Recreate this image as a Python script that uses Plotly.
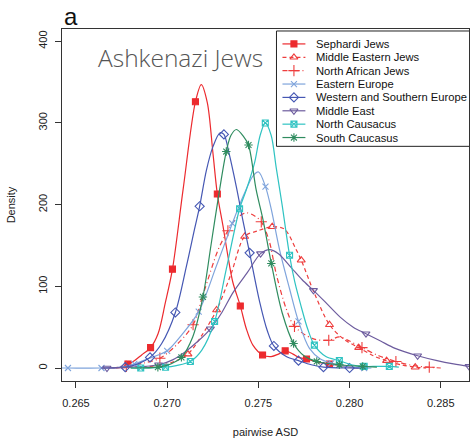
import plotly.graph_objects as go

# ---- density curves of pairwise ASD to Ashkenazi Jews, by population ----
series_names = [
    "Sephardi Jews", "Middle Eastern Jews", "North African Jews", "Eastern Europe",
    "Western and Southern Europe", "Middle East", "North Causacus", "South Caucasus",
]

sephardi_x = [0.2672, 0.2675, 0.26785, 0.2682, 0.2686, 0.26909, 0.2695, 0.2699, 0.27029, 0.27087,
              0.27155, 0.27187, 0.2722, 0.27251, 0.27275, 0.27306, 0.27333, 0.2736, 0.27401, 0.27434,
              0.2747, 0.27523, 0.2757, 0.2761, 0.27647, 0.2769, 0.2772, 0.27764, 0.2783, 0.2789,
              0.2795, 0.2800, 0.2805]
sephardi_y = [0, 1, 5, 9, 16, 25, 42, 80, 121, 218,
              326, 347, 325, 263, 213, 174, 137, 105, 76, 48,
              28, 16, 14, 17, 21, 17, 13, 11, 7, 5,
              3, 1, 0]
sephardi_marks = [0.26785, 0.26909, 0.27029, 0.27155, 0.27275, 0.27401, 0.27523, 0.27647, 0.27764, 0.2789]

mideast_jews_x = [0.2675, 0.26805, 0.2696, 0.2704, 0.27114, 0.2719, 0.27271, 0.2735, 0.27425, 0.27498,
                  0.27576, 0.27643, 0.27707, 0.27735, 0.2781, 0.2789, 0.2797, 0.2805, 0.2813, 0.28203,
                  0.2828, 0.2836, 0.2842]
mideast_jews_y = [0, 1, 3, 8, 17, 40, 71, 115, 161, 168,
                  173, 170, 145, 132, 90, 53, 35, 25, 15, 9,
                  4, 1, 0]
mideast_jews_marks = [0.27114, 0.27271, 0.27425, 0.27576, 0.27735, 0.2789, 0.2805, 0.28203, 0.2836]

nafrica_jews_x = [0.2670, 0.26776, 0.2687, 0.2696, 0.2705, 0.27142, 0.2720, 0.2728, 0.27333, 0.2738,
                  0.27434, 0.2748, 0.27516, 0.2756, 0.27598, 0.27652, 0.27698, 0.27798, 0.27886, 0.27944,
                  0.2800, 0.28068, 0.2816, 0.28254, 0.2835, 0.28437, 0.2850]
nafrica_jews_y = [0, 2, 6, 12, 28, 53, 92, 145, 168, 183,
                  190, 186, 179, 155, 115, 73, 51, 36, 34, 38,
                  33, 25, 15, 8, 3, 1, 0]
nafrica_jews_marks = [0.26776, 0.2696, 0.27142, 0.27333, 0.27516, 0.27698, 0.27886, 0.28068, 0.28254, 0.28437]

east_europe_x = [0.2640, 0.26456, 0.2664, 0.2672, 0.2677, 0.2682, 0.2688, 0.2694, 0.2700, 0.27085,
                 0.27173, 0.2727, 0.27357, 0.2742, 0.2747, 0.27501, 0.27539, 0.2757, 0.27616, 0.27671,
                 0.2772, 0.2778, 0.2784, 0.2790, 0.2795, 0.2800, 0.2808, 0.2812]
east_europe_y = [0, 0, 0, 0.5, 2, 5, 10, 15, 21, 42,
                 69, 125, 177, 212, 235, 240, 222, 195, 145, 97,
                 57, 24, 11, 6, 3, 1.5, 0, 0]
east_europe_marks = [0.26456, 0.2664, 0.2682, 0.2700, 0.27173, 0.27357, 0.27539, 0.2772, 0.2790, 0.2808]

west_south_x = [0.2664, 0.2677, 0.2684, 0.26906, 0.2697, 0.27045, 0.27106, 0.2715, 0.27178, 0.27215,
                0.27251, 0.2729, 0.27311, 0.2734, 0.27379, 0.27414, 0.27452, 0.27507, 0.2755, 0.27585,
                0.27653, 0.2772, 0.2779, 0.27857, 0.2800, 0.2810]
west_south_y = [0, 1, 5, 13, 30, 68, 125, 170, 198, 242,
                271, 288, 286, 262, 222, 182, 141, 81, 45, 27,
                14, 9, 4, 1, 0, 0]
west_south_marks = [0.2677, 0.26906, 0.27045, 0.27178, 0.27311, 0.27452, 0.27585, 0.2772, 0.27857, 0.2800]

mideast_x = [0.2664, 0.2667, 0.2680, 0.26953, 0.2703, 0.2710, 0.2717, 0.27237, 0.2730, 0.2736,
             0.2744, 0.27512, 0.27561, 0.2761, 0.2768, 0.2774, 0.27802, 0.2787, 0.2795, 0.2802,
             0.2809, 0.2817, 0.2825, 0.28373, 0.2848, 0.2857, 0.28655]
mideast_y = [0, 0, 1, 4, 10, 20, 33, 48, 68, 92,
             117, 140, 145, 140, 123, 108, 95, 80, 62, 50,
             42, 33, 24, 15, 9, 5, 2]
mideast_marks = [0.2667, 0.26953, 0.27237, 0.27512, 0.27802, 0.2809, 0.28373, 0.28655]

n_caucasus_x = [0.2680, 0.26855, 0.26991, 0.2705, 0.27127, 0.2719, 0.2726, 0.27324, 0.27397, 0.27434,
                0.27479, 0.2751, 0.27538, 0.2757, 0.27598, 0.2763, 0.27671, 0.2770, 0.27735, 0.2777,
                0.27807, 0.2787, 0.27944, 0.2801, 0.2808, 0.2815, 0.28218, 0.2827]
n_caucasus_y = [0, 0, 1, 3, 8, 22, 57, 121, 195, 218,
                251, 285, 300, 285, 245, 200, 138, 105, 75, 48,
                28, 14, 9, 4, 2, 2, 2, 1]
n_caucasus_marks = [0.26855, 0.26991, 0.27127, 0.2726, 0.27397, 0.27538, 0.27671, 0.27807, 0.27944, 0.2808, 0.28218]

s_caucasus_x = [0.2680, 0.26949, 0.2702, 0.27078, 0.2714, 0.27196, 0.2724, 0.27285, 0.27324, 0.2735,
                0.2738, 0.2742, 0.27446, 0.27488, 0.27525, 0.27571, 0.2763, 0.27693, 0.2775, 0.2782,
                0.27944, 0.28072, 0.2815]
s_caucasus_y = [0, 1, 5, 13, 38, 87, 150, 215, 265, 285,
                292, 283, 273, 218, 182, 128, 68, 30, 15, 8,
                4, 2, 1]
s_caucasus_marks = [0.26949, 0.27078, 0.27196, 0.27324, 0.27446, 0.27571, 0.27693, 0.2782, 0.27944, 0.28072]

x_ticks = [0.265, 0.270, 0.275, 0.280, 0.285]
x_tick_labels = ["0.265", "0.270", "0.275", "0.280", "0.285"]
y_ticks = [0, 100, 200, 300, 400]

curves = [
    (sephardi_x, sephardi_y, sephardi_marks),
    (mideast_jews_x, mideast_jews_y, mideast_jews_marks),
    (nafrica_jews_x, nafrica_jews_y, nafrica_jews_marks),
    (east_europe_x, east_europe_y, east_europe_marks),
    (west_south_x, west_south_y, west_south_marks),
    (mideast_x, mideast_y, mideast_marks),
    (n_caucasus_x, n_caucasus_y, n_caucasus_marks),
    (s_caucasus_x, s_caucasus_y, s_caucasus_marks),
]

# ---- styling ----
colors = ["#EC2A2E", "#EE3D3D", "#EE3D3D", "#7FA4DC", "#4557B3", "#6D5C9E", "#2FC3C2", "#2F8C5F"]
dashes = ["solid", "4px,3px", "5px,3px,1px,3px", "solid", "solid", "solid", "solid", "solid"]
symbols = ["square", "triangle-up-open", "cross-thin-open", "x-thin-open",
           "diamond-open", "triangle-down-open", "square-x-open", "asterisk-open"]
sizes = [6, 7, 8, 6, 7, 7, 6, 7]

fig = go.Figure()

for (xs, ys, marks), col, dash, sym, sz in zip(curves, colors, dashes, symbols, sizes):
    fig.add_trace(go.Scatter(
        x=xs, y=ys, mode="lines", showlegend=False, hoverinfo="skip",
        line=dict(color=col, width=1.2, dash=dash, shape="spline", smoothing=0.9),
    ))
    my = [ys[xs.index(m)] for m in marks]
    fig.add_trace(go.Scatter(
        x=marks, y=my, mode="markers", showlegend=False, hoverinfo="skip",
        marker=dict(symbol=sym, size=sz, color=col, line=dict(color=col, width=1.1)),
    ))

# ---- legend drawn on a pixel-scaled overlay axis ----
L_LEFT, L_TOP, L_RIGHT, L_BOTTOM = 277, 31, 474, 147
row0, row_step = 44, 13.45
for i, (name, col, dash, sym, sz) in enumerate(zip(series_names, colors, dashes, symbols, sizes)):
    ry = row0 + i * row_step
    fig.add_trace(go.Scatter(
        x=[283, 306], y=[ry, ry], xaxis="x2", yaxis="y2", mode="lines",
        showlegend=False, hoverinfo="skip",
        line=dict(color=col, width=1.2, dash=dash),
    ))
    fig.add_trace(go.Scatter(
        x=[294.5], y=[ry], xaxis="x2", yaxis="y2", mode="markers",
        showlegend=False, hoverinfo="skip",
        marker=dict(symbol=sym, size=sz, color=col, line=dict(color=col, width=1.1)),
    ))
    fig.add_annotation(
        x=315, y=ry, xref="x2", yref="y2", text=name, showarrow=False,
        xanchor="left", yanchor="middle",
        font=dict(family="Liberation Sans, Arial", size=11.2, color="#111111"),
    )

fig.add_shape(type="rect", xref="x2", yref="y2", x0=L_LEFT, y0=L_TOP, x1=L_RIGHT, y1=L_BOTTOM,
              line=dict(color="#222222", width=1), fillcolor="rgba(0,0,0,0)", layer="above")

# ---- labels ----
fig.add_annotation(x=0, y=1.0, xref="paper", yref="paper", text="a", showarrow=False,
                   xanchor="left", yanchor="bottom", yshift=-3,
                   font=dict(family="Liberation Sans, Arial", size=24, color="#111111"))
fig.add_annotation(x=96, y=58, xref="x2", yref="y2", text="Ashkenazi Jews", showarrow=False,
                   xanchor="left", yanchor="middle",
                   font=dict(family="Open Sans", size=24.5, color="#555555", weight=300))

axis_font = dict(family="Liberation Sans, Arial", size=11, color="#222222")

fig.update_layout(
    width=472, height=439,
    margin=dict(l=62, r=2, t=29, b=56),
    paper_bgcolor="white", plot_bgcolor="white",
    showlegend=False,
    xaxis=dict(
        range=[0.264234, 0.286548], tickvals=x_ticks, ticktext=x_tick_labels,
        showgrid=False, zeroline=False, showline=True, mirror=True,
        linecolor="#333333", linewidth=1, ticks="outside", ticklen=6, tickcolor="#333333",
        tickfont=axis_font, ticklabelstandoff=6,
        title=dict(text="pairwise ASD", font=axis_font, standoff=20),
    ),
    yaxis=dict(
        range=[-15.9, 415.0], tickvals=y_ticks, tickangle=-90,
        showgrid=False, zeroline=False, showline=True, mirror=True,
        linecolor="#333333", linewidth=1, ticks="outside", ticklen=6, tickcolor="#333333",
        tickfont=axis_font, ticklabelstandoff=4,
        title=dict(text="Density", font=axis_font, standoff=18),
    ),
    xaxis2=dict(range=[62, 470], overlaying="x", anchor="y2", visible=False, fixedrange=True),
    yaxis2=dict(range=[383, 29], overlaying="y", anchor="x2", visible=False, fixedrange=True),
)

fig.write_html("out.html")
